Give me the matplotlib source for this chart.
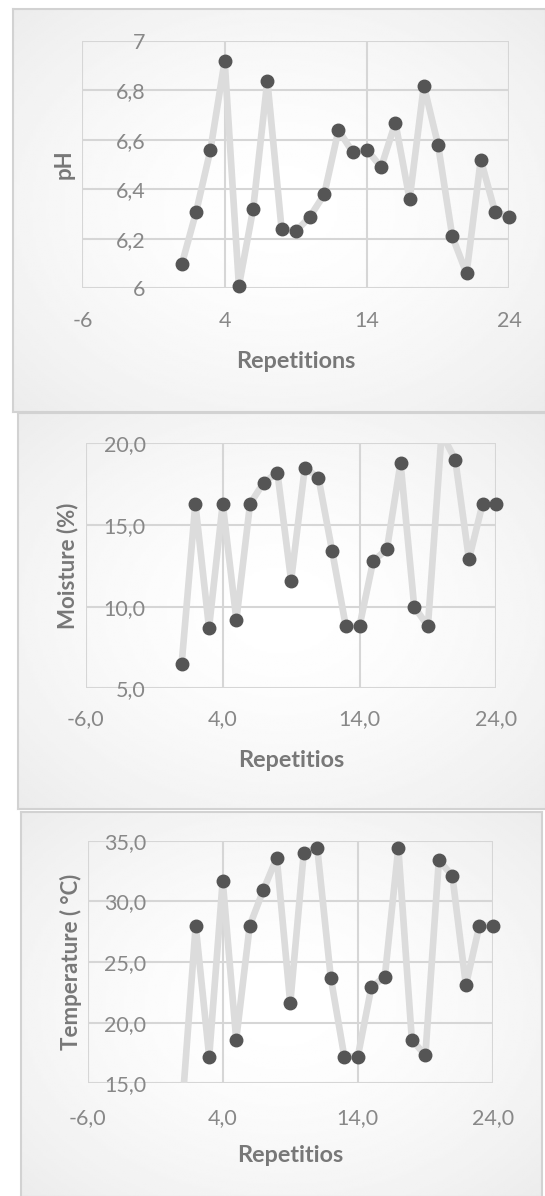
import numpy as np
import matplotlib
matplotlib.use("Agg")
import matplotlib.pyplot as plt

plt.rcParams['font.family'] = ['Lato', 'DejaVu Sans']

# ---------------- data ----------------
repetitions = list(range(1, 25))

ph_values = [6.10, 6.31, 6.56, 6.92, 6.01, 6.32, 6.84, 6.24, 6.23, 6.29, 6.38, 6.64,
             6.55, 6.56, 6.49, 6.67, 6.36, 6.82, 6.58, 6.21, 6.06, 6.52, 6.31, 6.29]

moisture_values = [6.5, 16.3, 8.7, 16.3, 9.2, 16.3, 17.6, 18.2, 11.6, 18.5, 17.9, 13.4,
                   8.8, 8.8, 12.8, 13.5, 18.8, 10.0, 8.8, 20.6, 19.0, 12.9, 16.3, 16.3]

temperature_values = [13.0, 28.0, 17.2, 31.7, 18.6, 28.0, 30.9, 33.6, 21.6, 34.0, 34.4, 23.7,
                      17.2, 17.2, 22.9, 23.8, 34.4, 18.6, 17.3, 33.4, 32.1, 23.1, 28.0, 28.0]

x_ticks = [-6, 4, 14, 24]
x_labels_int = ["-6", "4", "14", "24"]
x_labels_dec = ["-6,0", "4,0", "14,0", "24,0"]

ph_ticks = [6.0, 6.2, 6.4, 6.6, 6.8, 7.0]
ph_labels = ["6", "6,2", "6,4", "6,6", "6,8", "7"]
moist_ticks = [5, 10, 15, 20]
moist_labels = ["5,0", "10,0", "15,0", "20,0"]
temp_ticks = [15, 20, 25, 30, 35]
temp_labels = ["15,0", "20,0", "25,0", "30,0", "35,0"]

# ---------------- layout helpers ----------------
W, H = 545, 1196
fig = plt.figure(figsize=(W / 100, H / 100), dpi=100)
fig.patch.set_facecolor('white')


def rect(l, t, r, b):
    return [l / W, 1 - b / H, (r - l) / W, (b - t) / H]


# radial gradient for panel backgrounds
gy, gx = np.mgrid[-1:1:200j, -1:1:200j]
grad = 1.0 - 0.075 * np.clip((gx ** 2 + gy ** 2) / 2.0, 0, 1) ** 0.8


def panel_box(l, t, r, b):
    bg = fig.add_axes(rect(l, t, r, b), zorder=0)
    bg.imshow(grad, cmap='gray', vmin=0, vmax=1, aspect='auto',
              extent=[0, 1, 0, 1], interpolation='bilinear')
    bg.set_xticks([])
    bg.set_yticks([])
    for s in bg.spines.values():
        s.set_color('#d2d2d2')
        s.set_linewidth(1.5)


GRID = '#d6d6d6'
LINE = '#dcdcdc'
MARK = '#555555'
TICKC = '#888888'
TITLEC = '#787878'


def make_panel(prect, xs, ys, ylim, yticks, ylabels, xlabels, ylabel, xlabel,
               ylab_x, xlab_y, xtick_pad):
    l, t, r, b = prect
    ax = fig.add_axes(rect(l, t, r, b), zorder=2)
    ax.set_facecolor('none')
    ax.set_xlim(-6, 24)
    ax.set_ylim(*ylim)
    ax.plot(xs, ys, color=LINE, lw=4.8, solid_joinstyle='round',
            solid_capstyle='round', zorder=2)
    xs_a = np.asarray(xs)
    ys_a = np.asarray(ys)
    inside = (ys_a >= ylim[0]) & (ys_a <= ylim[1])
    ax.plot(xs_a[inside], ys_a[inside], linestyle='none', marker='o', ms=9,
            color=MARK, mec=MARK, zorder=3, clip_on=False)
    ax.set_xticks(x_ticks)
    ax.set_xticklabels(xlabels)
    ax.set_yticks(yticks)
    ax.set_yticklabels(ylabels)
    ax.grid(True, color=GRID, lw=1.5)
    ax.set_axisbelow(True)
    for s in ax.spines.values():
        s.set_visible(False)
    ax.spines['left'].set_position(('data', 0))
    ax.tick_params(axis='y', length=0, pad=16, labelsize=15.5, labelcolor=TICKC)
    ax.tick_params(axis='x', length=0, pad=xtick_pad, labelsize=15.5, labelcolor=TICKC)
    ax.set_ylabel(ylabel, fontsize=16, fontweight='bold', color=TITLEC)
    ax.yaxis.set_label_coords(ylab_x, 0.5)
    ax.yaxis.label.set_va('center')
    ax.set_xlabel(xlabel, fontsize=16.8, fontweight='bold', color=TITLEC)
    ax.xaxis.set_label_coords(0.5, xlab_y)
    ax.xaxis.label.set_va('center')
    return ax


# panel 1: pH
panel_box(13, 8.5, 546, 411.5)
make_panel((82.4, 41, 509.2, 288.3), repetitions, ph_values, (6, 7), ph_ticks, ph_labels,
           x_labels_int, 'pH', 'Repetitions', -0.0424, -0.297, 16)

# panel 2: moisture
panel_box(18, 413, 546, 809)
make_panel((85.9, 443.3, 496.3, 688.3), repetitions, moisture_values, (5, 20), moist_ticks,
           moist_labels, x_labels_dec, 'Moisture (%)', 'Repetitios', -0.044, -0.293, 15)

# panel 3: temperature
panel_box(20.5, 812, 542, 1197)
make_panel((87.6, 840.7, 492.9, 1083.3), repetitions, temperature_values, (15, 35),
           temp_ticks, temp_labels, x_labels_dec, 'Temperature ( °C)', 'Repetitios',
           -0.040, -0.296, 18)

fig.savefig('out.png', dpi=100)
